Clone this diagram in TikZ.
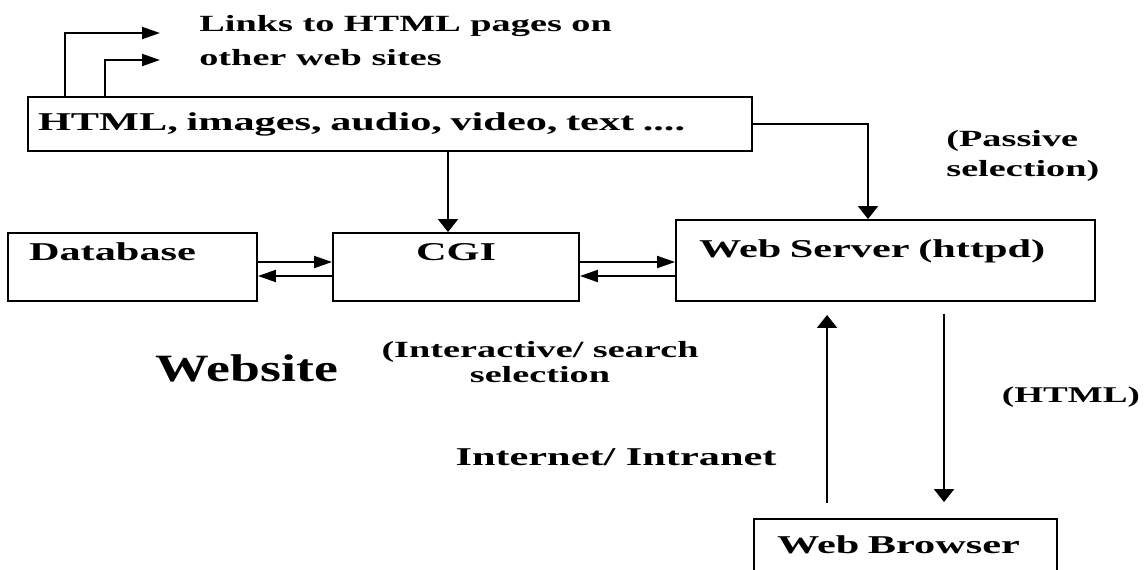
\documentclass[tikz,border=0pt]{standalone}
\usepackage{fontspec}
\newfontfamily\diafont[FakeStretch=1.65]{Liberation Serif}
\newfontfamily\titlefont[FakeStretch=1.39]{Liberation Serif}
\usepackage{tikz}
\usetikzlibrary{positioning,calc,arrows.meta}

\tikzset{
    block/.style={draw, line width=1.1pt, inner ysep=0pt,
        font=\diafont\bfseries\fontsize{14.6}{18}\selectfont},
    note/.style={inner sep=0pt, font=\diafont\bfseries\fontsize{12.8}{17}\selectfont},
    link/.style={line width=1.1pt},
    harr/.style={link, -{Triangle[length=0.36cm,width=0.24cm]}},
    varr/.style={link, -{Triangle[length=0.26cm,width=0.4cm]}}
}

\begin{document}
\begin{tikzpicture}[x=0.02cm, y=-0.02cm]
    \useasboundingbox (0,0) rectangle (1148,569);

    % Boxes
    \node[block, minimum width=14.48cm, minimum height=1.08cm, text width=14.08cm, inner xsep=0.2cm, align=left] (html) at (390,124) {HTML, images, audio, video, text ....};
    \node[block, text width=4.14cm, inner xsep=0.42cm, align=left, text height=0.54cm, text depth=0.82cm] (db) at (132.5,267) {Database};
    \node[block, minimum width=4.92cm, text height=0.54cm, text depth=0.82cm] (cgi) at (456,267) {CGI};
    \node[block, text width=7.46cm, inner xsep=0.46cm, align=left, text height=0.74cm, text depth=0.88cm] (ws) at (885.5,260.5) {Web Server (httpd)};
    \node[block, text width=5.14cm, inner xsep=0.46cm, align=left, text height=0.68cm, text depth=0.44cm] (browser) at (905.5,547) {Web Browser};

    % Labels
    \node[note, anchor=west, align=left, font=\diafont\bfseries\fontsize{13.2}{19.3}\selectfont] (links) at (199,41) {Links to HTML pages on\\other web sites};
    \node[note, anchor=west, align=left, font=\diafont\bfseries\fontsize{13.2}{17}\selectfont] (passive) at (946,156) {(Passive\\selection)};
    \node[note, align=center, font=\diafont\bfseries\fontsize{13.2}{14.5}\selectfont] (interactive) at (540,362) {(Interactive/ search\\selection};
    \node[note, font=\titlefont\bfseries\fontsize{22}{26}\selectfont] (website) at (247,368) {Website};
    \node[note, font=\diafont\bfseries\fontsize{14.6}{18}\selectfont] (net) at (616,457) {Internet/ Intranet};
    \node[note] (htmlout) at (1071,397) {(HTML)};

    % Links to other sites
    \coordinate (lk1) at (160,33);
    \coordinate (lk2) at (160,60);
    \draw[harr] ([xshift=0.76cm]html.north west) |- (lk1);
    \draw[harr] ([xshift=1.56cm]html.north west) |- (lk2);

    % Content to CGI and server
    \draw[varr] ([xshift=-0.16cm]cgi.north |- html.south) -- ([xshift=-0.16cm]cgi.north);
    \draw[varr] (html.east) -| ([xshift=-0.35cm]ws.north);

    % Database - CGI - server
    \draw[harr] ([yshift=0.1cm]db.east) -- ([yshift=0.1cm]db.east -| cgi.west);
    \draw[harr] ([yshift=-0.18cm]cgi.west) -- ([yshift=-0.18cm]cgi.west -| db.east);
    \draw[harr] ([yshift=0.1cm]cgi.east) -- ([yshift=0.1cm]cgi.east -| ws.west);
    \draw[harr] ([yshift=-0.18cm]ws.west |- cgi.east) -- ([yshift=-0.18cm]cgi.east);

    % Server - browser
    \draw[varr, shorten <=0.3cm, shorten >=0.26cm] ([xshift=1.48cm]browser.north west) -- ([xshift=1.48cm]browser.north west |- ws.south);
    \draw[varr, shorten <=0.24cm, shorten >=0.32cm] ([xshift=3.82cm]browser.north west |- ws.south) -- ([xshift=3.82cm]browser.north west);
\end{tikzpicture}
\end{document}
